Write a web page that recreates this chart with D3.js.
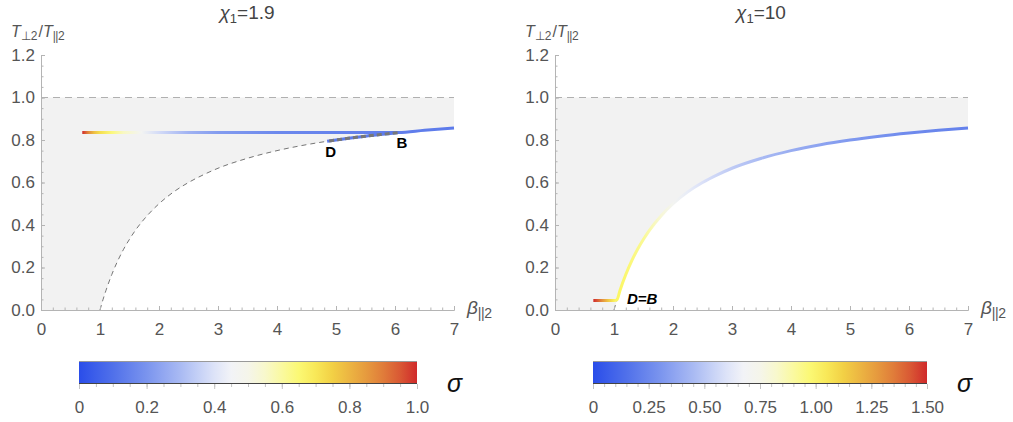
<!DOCTYPE html>
<html><head><meta charset="utf-8">
<script src="https://cdn.jsdelivr.net/npm/d3@7"></script>
<style>
body{margin:0;background:#fff}
text{font-family:"Liberation Sans",Arial,sans-serif}
</style>
</head><body>
<svg id="c" width="1013" height="422"></svg>
<script>
// ---------- data ----------
const xTicks = [0,1,2,3,4,5,6,7];
const yTicks = [0,0.2,0.4,0.6,0.8,1.0,1.2];
const yTickLabels = ["0.0","0.2","0.4","0.6","0.8","1.0","1.2"];
const cbLeftTicks = [0,0.2,0.4,0.6,0.8,1.0];
const cbLeftLabels = ["0","0.2","0.4","0.6","0.8","1.0"];
const cbRightTicks = [0,0.25,0.5,0.75,1.0,1.25,1.5];
const cbRightLabels = ["0","0.25","0.50","0.75","1.00","1.25","1.50"];

// threshold curve (dashed)
const thrBeta  = [1,1.05,1.1,1.2,1.3,1.4,1.5,1.6,1.8,2,2.25,2.5,2.75,3,3.5,4,4.5,4.85,5,5.5,6,6.06,6.5,7];
const thrRatio = [0,0.048,0.091,0.167,0.231,0.286,0.333,0.375,0.444,0.5,0.556,0.6,0.636,0.667,0.714,0.75,0.778,0.794,0.8,0.818,0.833,0.835,0.846,0.857];

// left panel (chi1 = 1.9): main coloured path
const leftBeta  = [0.7,0.8,0.9,1.0,1.2,1.4,1.7,2.0,2.5,3.0,4.0,5.0,6.06,6.5,7];
const leftRatio = [0.835,0.835,0.835,0.835,0.835,0.835,0.835,0.835,0.835,0.835,0.835,0.835,0.835,0.846,0.857];
const leftSigma = [1.0,0.88,0.78,0.72,0.64,0.56,0.47,0.38,0.28,0.22,0.17,0.15,0.14,0.135,0.13];
// left panel D -> B segment
const dbBeta  = [4.85,5,5.5,6,6.06];
const dbRatio = [0.794,0.8,0.818,0.833,0.835];
const dbSigma = 0.13;

// right panel (chi1 = 10)
const rightBeta  = [0.65,0.8,0.9,1.0,1.05,1.1,1.2,1.3,1.4,1.5,1.6,1.8,2,2.25,2.5,2.75,3,3.5,4,4.5,5,5.5,6,6.5,7];
const rightRatio = [0.045,0.045,0.045,0.045,0.048,0.091,0.167,0.231,0.286,0.333,0.375,0.444,0.5,0.556,0.6,0.636,0.667,0.714,0.75,0.778,0.8,0.818,0.833,0.846,0.857];
const rightSigma = [1.5,1.3,1.15,1.03,1.0,1.0,0.98,0.96,0.94,0.92,0.88,0.8,0.71,0.64,0.59,0.55,0.51,0.45,0.4,0.36,0.32,0.29,0.26,0.24,0.22];

// colour map (normalised position -> colour)
const cmapPos = [0,0.1,0.2,0.3,0.4,0.45,0.5,0.55,0.6,0.67,0.75,0.85,0.93,1];
const cmapCol = ["#2a4de9","#5070ea","#7a94ee","#a9baf3","#dde3f8","#f2f3f7","#f5f5ea","#f8f8cc","#faf9a0","#fbf763","#f2d045","#e69a3e","#dc6a38","#d02a2b"];

// ---------- drawing ----------
const svg = d3.select("#c");
const defs = svg.append("defs");
const cmap = d3.scaleLinear().domain(cmapPos).range(cmapCol).interpolate(d3.interpolateRgb).clamp(true);
const AX = "#b4b4b4", TXT = "#555";
const Y0 = 310, Y1 = 55;

function panel(o){
  const g = svg.append("g");
  const x = d3.scaleLinear().domain([0,7]).range([o.x0,o.x1]);
  const y = d3.scaleLinear().domain([0,1.2]).range([Y0,Y1]);
  const thr = thrBeta.map((b,i)=>[b,thrRatio[i]]);

  // shaded region
  const poly = [[0,0],[0,1],[7,1]].concat(thr.slice().reverse());
  g.append("path").attr("d", d3.line().x(d=>x(d[0])).y(d=>y(d[1]))(poly)+"Z")
    .attr("fill","#f2f2f2");
  // top dashed line
  g.append("line").attr("x1",x(0)).attr("x2",x(7)).attr("y1",y(1)).attr("y2",y(1))
    .attr("stroke","#b0b0b0").attr("stroke-width",1).attr("stroke-dasharray","7,5");
  // threshold dashed curve
  g.append("path").attr("d", d3.line().x(d=>x(d[0])).y(d=>y(d[1])).curve(d3.curveMonotoneX)(thr))
    .attr("fill","none").attr("stroke","#666").attr("stroke-width",0.9).attr("stroke-dasharray","5,4");

  // axes
  const ya = g.append("g").attr("transform",`translate(${o.x0},0)`)
    .call(d3.axisLeft(y).tickValues(yTicks).tickFormat((d,i)=>yTickLabels[i]).tickSizeInner(-4).tickSizeOuter(0).tickPadding(6));
  const yam = g.append("g").attr("transform",`translate(${o.x0},0)`)
    .call(d3.axisLeft(y).tickValues(d3.range(0,1.2001,0.05)).tickFormat("").tickSizeInner(-2.5).tickSizeOuter(0));
  const xa = g.append("g").attr("transform",`translate(0,${Y0})`)
    .call(d3.axisBottom(x).tickValues(xTicks).tickFormat(d3.format("d")).tickSizeInner(-4).tickSizeOuter(0).tickPadding(13));
  const xam = g.append("g").attr("transform",`translate(0,${Y0})`)
    .call(d3.axisBottom(x).tickValues(d3.range(0,7.001,0.2)).tickFormat("").tickSizeInner(-2.5).tickSizeOuter(0));
  [ya,yam,xa,xam].forEach(a=>{
    a.selectAll(".domain").attr("stroke",AX);
    a.selectAll(".tick line").attr("stroke",AX);
    a.selectAll("text").attr("fill",TXT).attr("font-size",17).attr("font-family","Liberation Sans, Arial, sans-serif");
  });

  // title
  const t = g.append("text").attr("x",o.tx).attr("y",19).attr("text-anchor","middle").attr("fill","#444").attr("font-size",19);
  t.append("tspan").attr("font-style","italic").text("χ");
  t.append("tspan").attr("font-size",13).attr("dy",4).text("1");
  t.append("tspan").attr("dy",-4).text("="+o.chi);
  // y label
  const yl = g.append("text").attr("x",o.x0-30).attr("y",37).attr("fill",TXT).attr("font-size",16);
  yl.append("tspan").attr("font-style","italic").text("T");
  yl.append("tspan").attr("font-size",12).attr("dy",3).text("⊥2");
  yl.append("tspan").attr("dy",-3).attr("dx",1).text("/");
  yl.append("tspan").attr("font-style","italic").text("T");
  yl.append("tspan").attr("font-size",12).attr("dy",3).attr("letter-spacing",-0.5).text("||2");
  // x label
  const xl = g.append("text").attr("x",o.x1+13).attr("y",314).attr("fill",TXT).attr("font-size",19);
  xl.append("tspan").attr("font-style","italic").text("β");
  xl.append("tspan").attr("font-size",14).attr("dy",4).attr("letter-spacing",-0.5).text("||2");

  return {g,x,y};
}

function gradPath(P, id, betas, ratios, sigmas, smax, width){
  const {g,x,y} = P;
  const xa = x(betas[0]), xb = x(betas[betas.length-1]);
  const gr = defs.append("linearGradient").attr("id",id).attr("gradientUnits","userSpaceOnUse")
    .attr("x1",xa).attr("x2",xb).attr("y1",0).attr("y2",0);
  betas.forEach((b,i)=>{
    gr.append("stop").attr("offset",(x(b)-xa)/(xb-xa)).attr("stop-color",cmap(sigmas[i]/smax));
  });
  const pts = betas.map((b,i)=>[b,ratios[i]]);
  g.append("path").attr("d", d3.line().x(d=>x(d[0])).y(d=>y(d[1])).curve(d3.curveMonotoneX)(pts))
    .attr("fill","none").attr("stroke",`url(#${id})`).attr("stroke-width",width).attr("stroke-linecap","butt");
}

function colorbar(x0,x1,ticks,labels,smax,id){
  const c = d3.scaleLinear().domain([0,smax]).range([x0,x1]);
  const gr = defs.append("linearGradient").attr("id",id);
  d3.range(0,1.0001,0.05).forEach(t=>gr.append("stop").attr("offset",t).attr("stop-color",cmap(t)));
  svg.append("rect").attr("x",x0).attr("y",361).attr("width",x1-x0).attr("height",23).attr("fill",`url(#${id})`);
  svg.append("line").attr("x1",x0).attr("x2",x1).attr("y1",361.5).attr("y2",361.5).attr("stroke","#999").attr("stroke-width",1);
  svg.append("line").attr("x1",x0).attr("x2",x1).attr("y1",383.5).attr("y2",383.5).attr("stroke","#444").attr("stroke-width",1);
  const a = svg.append("g").attr("transform","translate(0,384)")
    .call(d3.axisBottom(c).tickValues(ticks).tickFormat((d,i)=>labels[i]).tickSizeInner(5).tickSizeOuter(0).tickPadding(12));
  const am = svg.append("g").attr("transform","translate(0,384)")
    .call(d3.axisBottom(c).tickValues(d3.range(0,smax+0.0001,0.05)).tickFormat("").tickSizeInner(3).tickSizeOuter(0));
  [a,am].forEach(s=>{
    s.select(".domain").remove();
    s.selectAll(".tick line").attr("stroke","#c4c4c4");
    s.selectAll("text").attr("fill",TXT).attr("font-size",17).attr("font-family","Liberation Sans, Arial, sans-serif");
  });
  svg.append("text").attr("x",x1+30).attr("y",392).attr("font-size",25).attr("font-style","italic")
    .attr("fill","#111").text("σ");
}

// left panel
const PL = panel({x0:41,x1:454,tx:247,chi:"1.9"});
gradPath(PL,"gL",leftBeta,leftRatio,leftSigma,1.0,3);
const dbLine = d3.line().x((d,i)=>PL.x(dbBeta[i])).y((d,i)=>PL.y(dbRatio[i])).curve(d3.curveMonotoneX);
PL.g.append("path").attr("d", dbLine(dbBeta))
  .attr("fill","none").attr("stroke",cmap(dbSigma)).attr("stroke-width",3);
PL.g.append("path").attr("d", dbLine(dbBeta))
  .attr("fill","none").attr("stroke","#777").attr("stroke-width",3).attr("stroke-dasharray","5,3").attr("stroke-dashoffset",-2);
PL.g.append("text").attr("x",PL.x(4.85)-2).attr("y",157).attr("font-size",15).attr("font-weight","bold").attr("fill","#000").text("D");
PL.g.append("text").attr("x",PL.x(6.06)-2).attr("y",148).attr("font-size",15).attr("font-weight","bold").attr("fill","#000").text("B");

// right panel
const PR = panel({x0:555,x1:968,tx:761,chi:"10"});
gradPath(PR,"gR",rightBeta,rightRatio,rightSigma,1.5,3);
PR.g.append("text").attr("x",627).attr("y",304).attr("font-size",15).attr("font-weight","bold").attr("font-style","italic")
  .attr("fill","#000").text("D=B");

// colour bars
colorbar(79,417,cbLeftTicks,cbLeftLabels,1.0,"cbL");
colorbar(593,927,cbRightTicks,cbRightLabels,1.5,"cbR");
</script>
</body></html>
